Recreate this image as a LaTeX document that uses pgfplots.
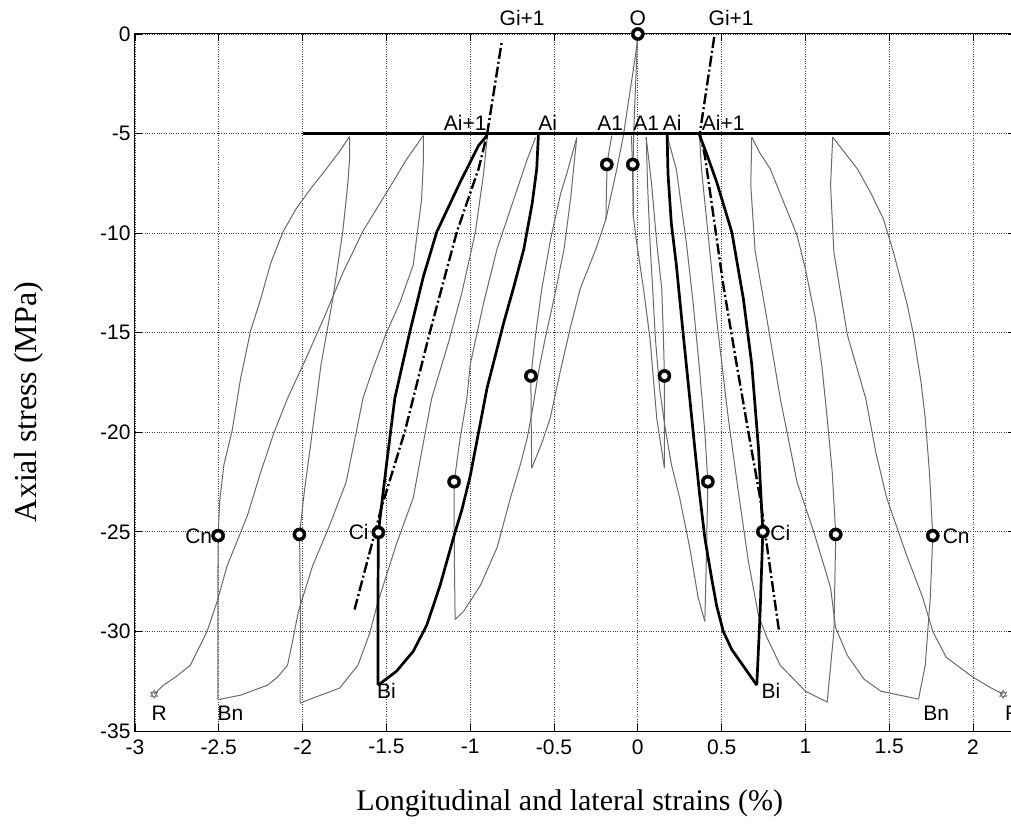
\documentclass[border=0pt]{standalone}
\usepackage{pgfplots}
\pgfplotsset{compat=1.18}
\usepackage{fontspec}
\setmainfont{Liberation Sans}
\newfontfamily\seriffont{Liberation Serif}
\definecolor{tg}{RGB}{105,105,105}
\pgfplotsset{
  tl/.style={tg, line width=1pt, no marks, line join=round},
  tk/.style={black, line width=2.7pt, no marks, line join=round},
  dd/.style={black, line width=2.4pt, no marks, dash pattern=on 11pt off 3pt on 2pt off 3pt},
}
\pgfplotstableread{
x y
0 0
-0.185 -6.55
-0.030 -6.55
-0.638 -17.17
0.159 -17.17
-1.096 -22.48
0.418 -22.48
-1.548 -25.03
0.746 -24.99
-2.019 -25.13
1.181 -25.13
-2.504 -25.19
1.76 -25.19
}\circles
\begin{document}
\begin{tikzpicture}
\begin{axis}[
  at={(0pt,0pt)}, anchor=south west,
  scale only axis, width=880pt, height=697pt,
  xmin=-3, xmax=2.2506, ymin=-35, ymax=0,
  clip=false,
  xtick={-3,-2.5,-2,-1.5,-1,-0.5,0,0.5,1,1.5,2},
  xticklabels={-3,-2.5,-2,-1.5,-1,-0.5,0,0.5,1,1.5,2},
  ytick={-35,-30,-25,-20,-15,-10,-5,0},
  yticklabels={-35,-30,-25,-20,-15,-10,-5,0},
  ticklabel style={font=\fontsize{21}{25}\selectfont},
  xticklabel style={yshift=-5pt},
  yticklabel style={xshift=-1pt},
  grid=major,
  grid style={black!75, dotted, line width=0.8pt},
  tick align=inside, major tick length=7pt,
  tick style={black, line width=0.8pt},
  axis line style={black, line width=1pt},
  xlabel={\seriffont\fontsize{30}{36}\selectfont Longitudinal and lateral strains (\%)},
  xlabel style={at={(axis description cs:0.494,-0.1033)}, anchor=center},
  ylabel={\seriffont\fontsize{32}{38}\selectfont Axial stress (MPa)},
  ylabel style={at={(axis description cs:-0.1205,0.472)}, anchor=center},
]
% ---------------- thin curves, left side ----------------
\addplot[tl] coordinates {(0,0) (-0.006,-0.6) (-0.026,-1.76) (-0.056,-3.4) (-0.086,-5.1) (-0.125,-6.77) (-0.165,-8.3) (-0.19,-9.3) (-0.25,-10.8) (-0.344,-12.8) (-0.404,-14.8) (-0.464,-17.0) (-0.523,-19.3) (-0.575,-20.6) (-0.633,-21.8)};
\addplot[tl] coordinates {(-0.155,-5.1) (-0.17,-5.8) (-0.183,-6.55) (-0.187,-7.8) (-0.19,-9.3)};
\addplot[tl] coordinates {(-0.633,-21.8) (-0.636,-19.5) (-0.638,-17.2) (-0.613,-15.3) (-0.573,-12.8) (-0.52,-10.3) (-0.46,-8.0) (-0.42,-6.9) (-0.364,-5.2)};
\addplot[tl] coordinates {(-0.364,-5.2) (-0.38,-6.5) (-0.40,-8.2) (-0.44,-10.8) (-0.50,-13.3) (-0.553,-15.3) (-0.593,-17.0) (-0.625,-18.7) (-0.66,-20.3) (-0.70,-21.6) (-0.76,-23.3) (-0.84,-25.8) (-0.94,-27.7) (-1.04,-29.0) (-1.09,-29.4)};
\addplot[tl] coordinates {(-1.09,-29.4) (-1.095,-26) (-1.096,-22.5) (-1.06,-20.3) (-1.02,-18.3) (-1.0,-16.6) (-0.92,-13.5) (-0.84,-10.8) (-0.74,-8.3) (-0.66,-6.3) (-0.61,-5.2)};
\addplot[tl] coordinates {(-0.897,-5.07) (-0.92,-7) (-0.97,-10) (-1.05,-13) (-1.13,-15.5) (-1.23,-18.3) (-1.29,-21) (-1.34,-23.3) (-1.44,-25.6) (-1.50,-27.2) (-1.55,-28.5) (-1.60,-30.1) (-1.67,-31.7) (-1.78,-32.85) (-1.94,-33.35) (-2.015,-33.6)};
\addplot[tl] coordinates {(-2.015,-33.6) (-2.013,-29) (-2.018,-25.1) (-1.99,-23) (-1.955,-20.8) (-1.89,-16.6) (-1.82,-13.3) (-1.76,-9.9) (-1.73,-7.5) (-1.72,-6.3) (-1.72,-5.15)};
\addplot[tl] coordinates {(-1.72,-5.15) (-1.78,-5.9) (-1.87,-6.9) (-1.955,-7.8) (-2.04,-8.8) (-2.115,-9.9) (-2.19,-11.5) (-2.25,-13.3) (-2.31,-14.9) (-2.37,-17.3) (-2.42,-19.9) (-2.47,-21.65) (-2.495,-23.5) (-2.504,-25.2) (-2.506,-29) (-2.506,-33.43)};
\addplot[tl] coordinates {(-1.28,-5.1) (-1.28,-6.5) (-1.29,-8.3) (-1.34,-11.6) (-1.42,-13.5) (-1.50,-15.0) (-1.58,-16.8) (-1.64,-18.3) (-1.68,-20) (-1.74,-22.5) (-1.84,-24.7) (-1.94,-26.7) (-2.025,-29.0) (-2.06,-30.5) (-2.09,-31.7) (-2.15,-32.3) (-2.21,-32.7) (-2.37,-33.2) (-2.506,-33.43)};
\addplot[tl] coordinates {(-1.28,-5.1) (-1.38,-6.3) (-1.48,-7.7) (-1.64,-9.9) (-1.76,-12.0) (-1.87,-14.2) (-1.98,-16.3) (-2.09,-18.3) (-2.17,-20) (-2.25,-22) (-2.33,-24.2) (-2.45,-26.7) (-2.51,-28.5) (-2.57,-30.0) (-2.67,-31.7) (-2.76,-32.3) (-2.83,-32.7) (-2.886,-33.15)};
% ---------------- thin curves, right side ----------------
\addplot[tl] coordinates {(0,0) (-0.008,-1.5) (-0.018,-3.5) (-0.025,-5.1) (-0.028,-6.55) (-0.028,-9.1) (-0.006,-10.5) (0.034,-12.8) (0.073,-15.3) (0.093,-17.3) (0.113,-19.3) (0.159,-21.8)};
\addplot[tl] coordinates {(-0.038,-5.1) (-0.032,-6.55) (-0.026,-9.1)};
\addplot[tl] coordinates {(0.159,-21.8) (0.159,-17.2) (0.153,-15.3) (0.143,-12.8) (0.113,-10.5) (0.083,-7.6) (0.05,-5.18)};
\addplot[tl] coordinates {(0.05,-5.18) (0.058,-7.5) (0.073,-10.5) (0.09,-13) (0.105,-15.3) (0.13,-17.8) (0.16,-19.6) (0.20,-21.6) (0.25,-23.3) (0.31,-25.8) (0.36,-28.3) (0.40,-29.5)};
\addplot[tl] coordinates {(0.40,-29.5) (0.41,-26) (0.418,-22.5) (0.40,-20) (0.37,-17) (0.33,-13.5) (0.29,-10.5) (0.23,-6.8) (0.175,-5.1)};
\addplot[tl] coordinates {(0.368,-5.1) (0.38,-6.8) (0.42,-10.1) (0.47,-14.3) (0.54,-19.3) (0.60,-23) (0.66,-26.5) (0.72,-29.2) (0.77,-30.3) (0.85,-31.7) (1.0,-33.0) (1.13,-33.55)};
\addplot[tl] coordinates {(0.68,-5.18) (0.73,-6) (0.79,-6.77) (0.87,-8.44) (0.95,-10.1) (1.0,-11.8) (1.06,-14.3) (1.10,-16.8) (1.13,-19.3) (1.16,-22) (1.181,-25.13) (1.17,-30.0) (1.13,-33.55)};
\addplot[tl] coordinates {(0.68,-5.18) (0.674,-7.6) (0.70,-10.9) (0.77,-14.3) (0.85,-18.3) (0.95,-22.5) (1.05,-25.0) (1.15,-27.8) (1.18,-29.8) (1.25,-31.2) (1.35,-32.4) (1.45,-33.0) (1.675,-33.4)};
\addplot[tl] coordinates {(1.163,-5.18) (1.22,-5.8) (1.31,-6.77) (1.385,-7.9) (1.465,-9.28) (1.525,-10.95) (1.605,-13.5) (1.645,-15.1) (1.69,-17.5) (1.715,-19.3) (1.74,-22) (1.76,-25.2) (1.745,-28.3) (1.715,-31.7) (1.675,-33.4)};
\addplot[tl] coordinates {(1.163,-5.18) (1.15,-7.6) (1.17,-10.95) (1.25,-15.1) (1.36,-18.3) (1.42,-21) (1.485,-23.3) (1.605,-26.2) (1.70,-28.3) (1.76,-30.0) (1.84,-31.3) (2.0,-32.3) (2.10,-32.8) (2.18,-33.15)};
% ---------------- horizontal line at -5 ----------------
\addplot[tk] coordinates {(-2.0,-5) (1.505,-5)};
% ---------------- thick cycle i ----------------
\addplot[tk] coordinates {(-0.593,-5.05) (-0.603,-6.77) (-0.63,-8.5) (-0.68,-10.8) (-0.74,-12.7) (-0.80,-14.5) (-0.90,-17.8) (-0.95,-20) (-1.0,-22.2) (-1.05,-23.9) (-1.10,-25.3) (-1.18,-27.7) (-1.26,-29.7) (-1.34,-31.0) (-1.44,-32.0) (-1.55,-32.7)};
\addplot[tk] coordinates {(-1.55,-32.7) (-1.55,-28) (-1.548,-25.03) (-1.50,-21.65) (-1.45,-18.3) (-1.36,-14.95) (-1.28,-12.2) (-1.20,-9.95) (-1.06,-7.44) (-0.95,-5.6) (-0.897,-5.07)};
\addplot[tk] coordinates {(0.175,-5.05) (0.18,-7) (0.20,-9.5) (0.23,-11.6) (0.27,-15) (0.31,-18.3) (0.34,-20.8) (0.37,-23.2) (0.40,-25.3) (0.44,-27.3) (0.47,-28.7) (0.51,-30.0) (0.56,-30.9) (0.61,-31.5) (0.71,-32.7)};
\addplot[tk] coordinates {(0.71,-32.7) (0.73,-29) (0.746,-25.0) (0.72,-20.8) (0.68,-16.6) (0.63,-13.3) (0.561,-9.95) (0.471,-7.44) (0.41,-6.0) (0.368,-5.07)};
% ---------------- dash-dot G_{i+1} lines ----------------
\addplot[dd] coordinates {(-1.69,-28.9) (-1.53,-23.8) (-1.39,-19.96) (-1.24,-14.95) (-1.08,-9.95) (-0.95,-6.77) (-0.90,-5.07) (-0.81,-0.3)};
\addplot[dd] coordinates {(0.456,-0.15) (0.37,-5.0) (0.40,-6.1) (0.51,-12.6) (0.59,-16.6) (0.66,-20.0) (0.73,-23.3) (0.843,-30.0)};
% ---------------- circles (bold rings) ----------------
\addplot[only marks, mark=*, mark size=6.6pt, mark options={draw=none, fill=black}] table[x=x, y=y] {\circles};
\addplot[only marks, mark=*, mark size=3.6pt, mark options={draw=none, fill=white}] table[x=x, y=y] {\circles};
% ---------------- star markers R ----------------
\addplot[only marks, mark=triangle, mark size=4pt, mark options={tg, line width=0.7pt}] coordinates {(-2.886,-33.15) (2.18,-33.15)};
\addplot[only marks, mark=triangle, mark size=4pt, mark options={tg, line width=0.7pt, rotate=180}] coordinates {(-2.886,-33.15) (2.18,-33.15)};
% ---------------- labels ----------------
\begin{scope}[every node/.style={font=\fontsize{21}{25}\selectfont, inner sep=0pt}]
\node[anchor=base] at (axis cs:-0.69,0.42) {Gi+1};
\node[anchor=base] at (axis cs:0,0.42) {O};
\node[anchor=base] at (axis cs:0.557,0.42) {Gi+1};
\node[anchor=base] at (axis cs:-1.03,-4.86) {Ai+1};
\node[anchor=base] at (axis cs:-0.538,-4.86) {Ai};
\node[anchor=base] at (axis cs:-0.165,-4.86) {A1};
\node[anchor=base] at (axis cs:0.05,-4.86) {A1};
\node[anchor=base] at (axis cs:0.205,-4.86) {Ai};
\node[anchor=base] at (axis cs:0.51,-4.86) {Ai+1};
\node[anchor=center] at (axis cs:-2.62,-25.2) {Cn};
\node[anchor=center] at (axis cs:-1.665,-25.0) {Ci};
\node[anchor=center] at (axis cs:0.85,-25.07) {Ci};
\node[anchor=center] at (axis cs:1.90,-25.2) {Cn};
\node[anchor=center] at (axis cs:-2.855,-34.1) {R};
\node[anchor=center] at (axis cs:-2.43,-34.1) {Bn};
\node[anchor=center] at (axis cs:-1.50,-33.0) {Bi};
\node[anchor=center] at (axis cs:0.795,-33.0) {Bi};
\node[anchor=center] at (axis cs:1.78,-34.1) {Bn};
\node[anchor=west] at (axis cs:2.19,-34.1) {R};
\end{scope}
\end{axis}
\pgfresetboundingbox
\path[use as bounding box] (-135pt,-97pt) rectangle (876pt,731pt);
\end{tikzpicture}
\end{document}
